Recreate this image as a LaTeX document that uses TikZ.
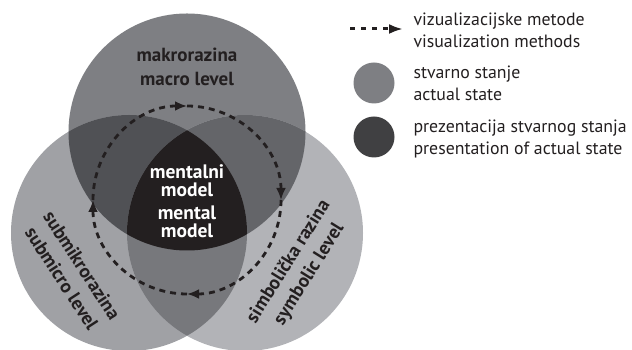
\documentclass[tikz,border=0pt]{standalone}
\usepackage{fontspec}
\setmainfont{PT Sans}
\usetikzlibrary{arrows.meta, positioning}
\definecolor{macrogray}{HTML}{7E7F83}
\definecolor{microgray}{HTML}{A0A1A5}
\definecolor{symbgray}{HTML}{B2B3B7}
\definecolor{macmicgray}{HTML}{505155}
\definecolor{macsymgray}{HTML}{646569}
\definecolor{micsymgray}{HTML}{77787C}
\definecolor{mentblack}{HTML}{231F20}
\definecolor{legdark}{HTML}{404042}

\begin{document}
\begin{tikzpicture}[x=1pt, y=1pt,
    flow/.style={line width=2.8pt, dash pattern=on 6pt off 5pt, -{Latex[length=12pt,width=10pt]}},
    lvl/.style={font=\fontsize{19}{24}\selectfont\bfseries, align=center, text=mentblack},
    ment/.style={font=\fontsize{19.5}{18}\selectfont\bfseries, align=center, text=white},
    legtext/.style={font=\fontsize{17.8}{22}\selectfont, align=left, anchor=west, text=mentblack},
    legdot/.style={circle, minimum size=41pt, inner sep=0pt}]
    \useasboundingbox (0,0) rectangle (632,350);
    % circle centres
    \coordinate (ctop) at (187,218);
    \coordinate (cleft) at (129,117);
    \coordinate (cright) at (245,117);
    % three levels
    \fill[macrogray] (ctop) circle (118.5);
    \fill[microgray] (cleft) circle (118);
    \fill[symbgray] (cright) circle (118);
    % overlaps
    \begin{scope}
        \clip (ctop) circle (118.5);
        \fill[macmicgray] (cleft) circle (118);
        \fill[macsymgray] (cright) circle (118);
    \end{scope}
    \begin{scope}
        \clip (cleft) circle (118);
        \fill[micsymgray] (cright) circle (118);
        \clip (cright) circle (118);
        \fill[mentblack] (ctop) circle (118.5);
    \end{scope}
    % visualization cycle
    \coordinate (pw) at (93,150);
    \coordinate (pn) at (187,244);
    \coordinate (pe) at (281,150);
    \coordinate (ps) at (187,56);
    \draw[flow, mentblack] (pw) arc[start angle=180, end angle=90, radius=94];
    \draw[flow, mentblack] (pn) arc[start angle=90, end angle=0, radius=94];
    \draw[flow, mentblack] (pe) arc[start angle=0, end angle=-90, radius=94];
    \draw[flow, mentblack] (ps) arc[start angle=-90, end angle=-180, radius=94];
    % labels
    \node[lvl] (macro) at (187,283) {makrorazina\\macro level};
    \node[lvl, rotate=-57] (micro) at (72,78) {submikrorazina\\submicro level};
    \node[lvl, rotate=58] (symb) at (299,82) {simbolička razina\\symbolic level};
    \node[ment] (mentl) at (187,169) {mentalni\\model};
    \node[ment] (menta) at (187,128) {mental\\model};
    % legend
    \coordinate (la) at (350,321);
    \coordinate (lb) at (403,321);
    \draw[mentblack, line width=3pt, dash pattern=on 5pt off 6pt, -{Latex[length=14pt,width=10pt]}] (la) -- (lb);
    \node[legtext] (legflow) at (410,320) {vizualizacijske metode\\visualization methods};
    \node[legdot, fill=macrogray] (lgray) at (374,267) {};
    \node[legtext] (legstate) at (410,267) {stvarno stanje\\actual state};
    \node[legdot, fill=legdark] (ldark) at (374,213) {};
    \node[legtext] (legpres) at (410,211) {prezentacija stvarnog stanja\\presentation of actual state};
\end{tikzpicture}
\end{document}
